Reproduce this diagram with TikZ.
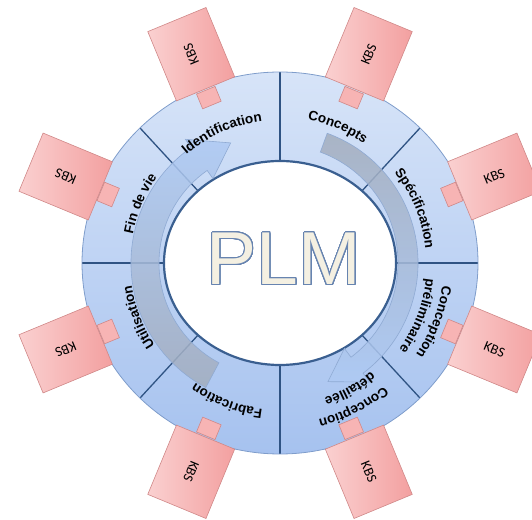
\documentclass[tikz,border=0pt]{standalone}
\usepackage{fontspec}
\setmainfont{Liberation Sans}
\newfontfamily\kbsfont{Carlito}
\newfontfamily\labfam{Liberation Sans}
\newcommand\labfont{\labfam\bfseries\fontsize{13.5}{16}\selectfont}
\usepackage{contour}
\contourlength{1.0pt}
\contournumber{32}
\usetikzlibrary{decorations.text,shadings}
\definecolor{ringtop}{HTML}{D7E4F8}
\definecolor{ringbot}{HTML}{A6C2EF}
\definecolor{ringedge}{HTML}{7F9DCB}
\definecolor{divline}{HTML}{2F5383}
\definecolor{innerline}{HTML}{3A5F90}
\definecolor{pinkA}{HTML}{FAD0D0}
\definecolor{pinkB}{HTML}{F3A0A0}
\definecolor{pinkedge}{HTML}{D08888}
\definecolor{tabfill}{HTML}{F7B4B4}
\definecolor{arrgray}{HTML}{A3ADBD}
\definecolor{arrblue}{HTML}{AECAF4}
\definecolor{arredge}{HTML}{8FAAD3}
\definecolor{plmfill}{HTML}{F4F0E2}
\definecolor{plmedge}{HTML}{6784B0}
\begin{document}
\begin{tikzpicture}[x=1pt,y=1pt,
  kbs/.style={draw=pinkedge, line width=0.6pt, left color=pinkA, right color=pinkB,
    minimum width=75pt, minimum height=63pt, inner sep=0pt,
    font=\kbsfont\fontsize{14}{16}\selectfont},
  tabbox/.style={draw=pinkedge, line width=0.6pt, fill=tabfill,
    minimum width=16pt, minimum height=20pt, inner sep=0pt},
  divider/.style={draw=divline, line width=1.3pt},
  lab/.style={decorate, decoration={text along path, text align=center, text={|\labfont|#1}}},
  rarrow/.style={top color=arrgray, bottom color=arrblue, fill opacity=0.85, draw=arredge, line width=0.6pt},
  larrow/.style={top color=arrblue, bottom color=arrgray, fill opacity=0.85, draw=arredge, line width=0.6pt}
]
\useasboundingbox (0,0) rectangle (532,519);
\begin{scope}[shift={(280,256)}]
  % ring
  \path[top color=ringtop, bottom color=ringbot] (0,0) ellipse [x radius=198, y radius=191];
  \foreach \a in {0,45,...,315}
    \draw[divider] (\a:116 and 102) -- (\a:198 and 191);
  \draw[ringedge, line width=0.8pt] (0,0) ellipse [x radius=198, y radius=191];
  \draw[innerline, line width=2.2pt, fill=white] (0,0) ellipse [x radius=116, y radius=102];
  % arrows
  \path[rarrow] (70:138) arc[start angle=70, end angle=-53, radius=138]
     -- (-53:149) -- (-68:128) -- (-53:107) -- (-53:118)
     arc[start angle=-53, end angle=70, radius=118] -- cycle;
  \begin{scope}[shift={(-8,0)}]
  \path[larrow] (-118:141) arc[start angle=-118, end angle=-235, radius=141]
     -- (125:151) -- (109:127) -- (125:103) -- (125:113)
     arc[start angle=125, end angle=242, radius=113] -- cycle;
  \end{scope}
  % PLM
  \node (plm) at (4,3.5) {\fontsize{75}{75}\selectfont\color{plmfill}\contour{plmedge}{PLM}};
  % labels
  \path[lab=Identification] (154:143) arc[start angle=154, end angle=74, radius=143];
  \path[lab=Concepts] (107:146) arc[start angle=107, end angle=27, radius=146];
  \path[lab=Spécification] (62:146) arc[start angle=62, end angle=-18, radius=146];
  \path[lab=Conception] (19:164) arc[start angle=19, end angle=-61, radius=164];
  \path[lab=préliminaire] (19:147) arc[start angle=19, end angle=-61, radius=147];
  \path[lab=Conception] (-23:161) arc[start angle=-23, end angle=-103, radius=161];
  \path[lab=détaillée] (-21:142) arc[start angle=-21, end angle=-101, radius=142];
  \path[lab=Fabrication] (-71:147) arc[start angle=-71, end angle=-151, radius=147];
  \path[lab=Utilisation] (-119:150) arc[start angle=-119, end angle=-199, radius=150];
  \path[lab=Fin de vie] (197:150) arc[start angle=197, end angle=117, radius=150];
  % KBS boxes with tabs
  \foreach \a/\n in {22.5/1,67.5/2,112.5/3,157.5/4,202.5/5,247.5/6,292.5/7,337.5/8}{
    \node[tabbox, rotate=\a] (tab\n) at (\a:186 and 179) {};
    \node[kbs, rotate=\a] (kbs\n) at (\a:232 and 226) {KBS};
  }
\end{scope}
\end{tikzpicture}
\end{document}
